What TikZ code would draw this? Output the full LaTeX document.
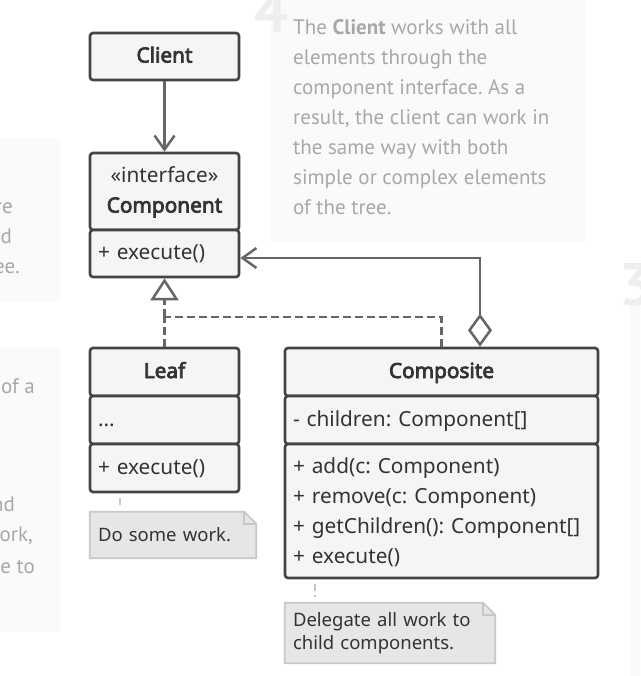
\documentclass[tikz,border=0pt]{standalone}
\usepackage{fontspec}
\setmainfont{Noto Sans}[AutoFakeBold=3.6]
\newfontfamily\hintfont{PT Sans}
\usetikzlibrary{arrows.meta,positioning}
\definecolor{boxline}{HTML}{444444}
\definecolor{boxfill}{HTML}{F5F5F5}
\definecolor{textdark}{HTML}{333333}
\definecolor{linkgray}{HTML}{666666}
\definecolor{notefill}{HTML}{E6E6E6}
\definecolor{notegray}{HTML}{C8C8C8}
\definecolor{panelfill}{HTML}{FAFAFA}
\definecolor{panelgray}{HTML}{A8A8A8}
\definecolor{stepgray}{HTML}{EEEEEE}
\frenchspacing

\begin{document}
\begin{tikzpicture}[x=1pt,y=-1pt]
    % Styles
    \tikzset{
        part/.style={rectangle, draw=boxline, fill=boxfill, line width=2.6pt, rounded corners=3pt, inner xsep=8pt, inner ysep=0pt, text=textdark, font=\fontsize{20.8}{30}\selectfont, execute at begin node=\strut, execute at end node=\strut},
        narrow/.style={part, text width=133pt},
        wide/.style={part, text width=297pt},
        title/.style={align=center, font=\fontsize{20.8}{30}\selectfont\bfseries},
        members/.style={align=left},
        note/.style={rectangle, fill=notefill, inner xsep=8pt, inner ysep=0pt, align=left, text=textdark, font=\fontsize{18.5}{23}\selectfont},
        noteborder/.style={draw=notegray, line width=1.8pt},
        notelink/.style={draw=notegray, line width=2pt, dash pattern=on 7pt off 4pt, shorten <=5pt, shorten >=6pt},
        link/.style={draw=linkgray, line width=2.5pt},
        realize/.style={link, dash pattern=on 8pt off 4pt},
        panel/.style={fill=panelfill},
        hint/.style={text=panelgray, font=\hintfont\fontsize{21}{30}\selectfont, inner sep=0pt},
        stepnumber/.style={text=stepgray, font=\hintfont\fontsize{60}{60}\selectfont\bfseries, inner sep=0pt}
    }

    \path[use as bounding box, clip] (0,0) rectangle (640,676);
    \fill[white] (0,0) rectangle (640,676);

    % Background panels
    \fill[panel] (-5,138) rectangle (60,302);
    \fill[panel] (-5,348) rectangle (60,632);
    \fill[panel] (270,-5) rectangle (585,242);
    \fill[panel] (630,300) rectangle (645,680);

    % Step numbers
    \node[stepnumber, anchor=base west] (num4) at (254,33) {4};
    \node[stepnumber, anchor=base west] (num3) at (619,305) {3};

    % Panel texts
    \node[hint, anchor=north west, align=left] (hint4) at (293,19) {The \textbf{Client} works with all\\elements through the\\component interface. As a\\result, the client can work in\\the same way with both\\simple or complex elements\\of the tree.};
    \node[hint, anchor=base east] (frag1) at (13,213) {re};
    \node[hint, anchor=base east] (frag2) at (12,243) {d};
    \node[hint, anchor=base east] (frag3) at (20,273) {ee.};
    \node[hint, anchor=base east] (frag4) at (35,393) {of a};
    \node[hint, anchor=base east] (frag5) at (15,511) {nd};
    \node[hint, anchor=base east] (frag6) at (33,541) {ork,};
    \node[hint, anchor=base east] (frag7) at (35,573) {e to};

    % Classes
    \node[narrow, title, minimum height=47pt] (client) at (164.5,56.5) {Client};
    \node[narrow, title, minimum height=77pt] (compHead) at (164.5,191.5) {{\mdseries«interface»}\\Component};
    \node[narrow, members, minimum height=47pt] (compOps) at (164.5,253.5) {+ execute()};

    \node[narrow, title, minimum height=48pt] (leafHead) at (164.5,372) {Leaf};
    \node[narrow, members, minimum height=48pt] (leafAttr) at (164.5,420) {...};
    \node[narrow, members, minimum height=48pt] (leafOps) at (164.5,468) {+ execute()};

    \node[wide, title, minimum height=48pt] (compositeHead) at (441.5,372) {Composite};
    \node[wide, members, minimum height=48pt] (compositeAttr) at (441.5,420) {- children: Component[]};
    \node[wide, members, minimum height=134pt] (compositeOps) at (441.5,511) {\rule{0pt}{24pt}+ add(c: Component)\\+ remove(c: Component)\\+ getChildren(): Component[]\\+ execute()};

    % Notes
    \node[note, text width=150pt, minimum height=46pt] (note1) at (173,535) {Do some work.};
    \node[note, text width=194pt, minimum height=60pt] (note2) at (390,633) {Delegate all work to\\child components.};
    \foreach \n in {note1,note2} {
        \fill[white] (\n.north east) -- ([xshift=-12pt]\n.north east) -- ([yshift=-12pt]\n.north east) -- cycle;
        \draw[noteborder] (\n.north west) -- ([xshift=-12pt]\n.north east) -- ([yshift=-12pt]\n.north east) -- (\n.south east) -- (\n.south west) -- cycle;
        \draw[noteborder] ([xshift=-12pt]\n.north east) |- ([yshift=-12pt]\n.north east);
    }

    % Connectors
    \coordinate (join) at (164.5,317);
    \draw[link, -{Straight Barb[length=14pt,width=20pt]}] (client) -- (compHead);
    \draw[realize] (leafHead) -- (join);
    \draw[realize] (compositeHead.north) |- (join);
    \draw[realize, -{Triangle[open, fill=white, length=22pt, width=28pt]}] (join) -- (compOps);
    \draw[link, {Diamond[open, fill=white, length=33pt, width=24pt]}-{Straight Barb[length=14pt,width=20pt]}] ([xshift=38.5pt]compositeHead.north) |- ([yshift=-4.5pt]compOps.east);
    \draw[notelink] ([xshift=-44.5pt]leafOps.south) -- ([xshift=-53pt]note1.north);
    \draw[notelink] ([xshift=-126.5pt]compositeOps.south) -- ([xshift=-75pt]note2.north);
\end{tikzpicture}
\end{document}
